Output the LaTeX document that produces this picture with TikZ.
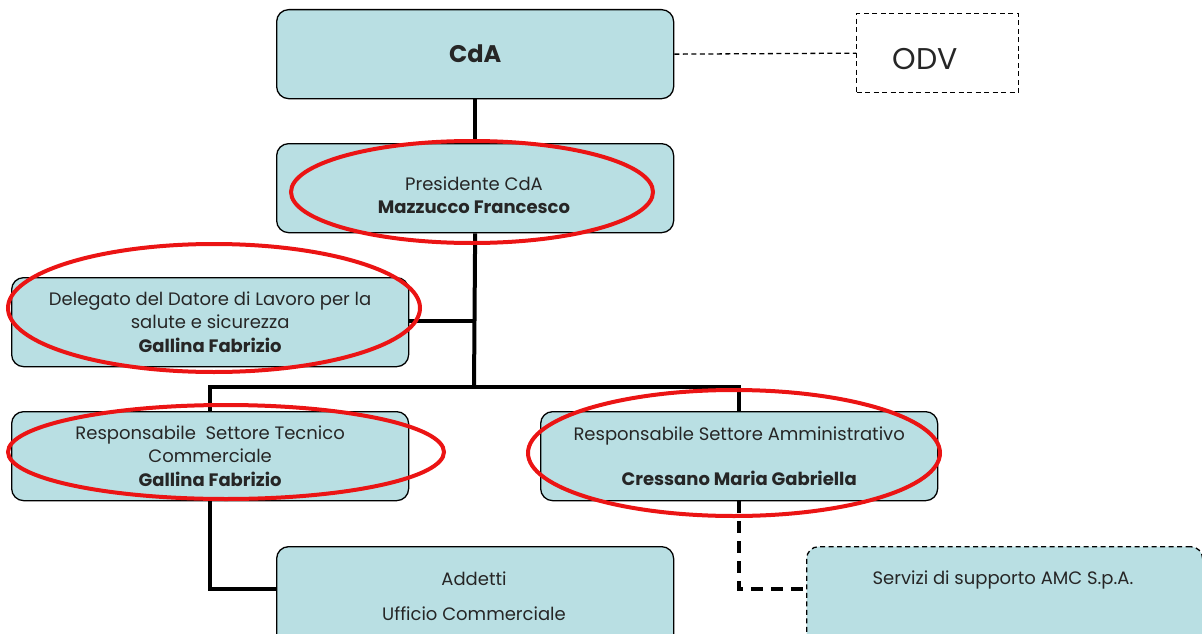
\documentclass[tikz,border=0pt]{standalone}
\usepackage{fontspec}
\setmainfont{Poppins}
\definecolor{boxfill}{RGB}{185,223,227}
\definecolor{ovalred}{RGB}{235,20,20}
\newcommand{\bodyfont}{\fontsize{18}{23.5}\selectfont}
\begin{document}
\begin{tikzpicture}[x=1pt,y=-1pt,
  box/.style={draw=black, line width=1.3pt, fill=boxfill, rounded corners=12pt,
    inner sep=0pt, align=center, font=\bodyfont, text=black!85,
    minimum width=397pt, minimum height=89pt, anchor=north west},
  dbox/.style={box, dash pattern=on 5pt off 3.5pt},
  lbl/.style={font=\bodyfont, text=black!85, align=center, inner sep=0pt},
  conn/.style={line width=4pt, draw=black},
  dconn/.style={line width=4pt, draw=black, dash pattern=on 12pt off 8pt},
  thindash/.style={line width=1.3pt, draw=black, dash pattern=on 5pt off 3.5pt},
  oval/.style={draw=ovalred, line width=4pt}]
\useasboundingbox (0,0) rectangle (1202,634);
% boxes
\node[box, font=\fontsize{24}{28}\selectfont\bfseries] (cda) at (276,9) {CdA};
\node[draw=black, thindash, minimum width=162pt, minimum height=79pt, anchor=north west,
  inner sep=0pt] (odv) at (856,13) {};
\node[lbl, font=\fontsize{30}{34}\selectfont] (odvt) at (925,59) {ODV};
\node[box] (pres) at (276,143) {};
\node[lbl] (prest) at (474,195) {Presidente CdA\\\textbf{Mazzucco Francesco}};
\node[box] (deleg) at (11,277) {Delegato del Datore di Lavoro per la\\salute e sicurezza\\\textbf{Gallina Fabrizio}};
\node[box] (tec) at (11,411) {Responsabile\ \ Settore Tecnico\\Commerciale\\\textbf{Gallina Fabrizio}};
\node[box] (amm) at (540,411) {Responsabile Settore Amministrativo\\[22pt]\textbf{Cressano Maria Gabriella}};
\node[box, minimum height=100pt] (add) at (276,546) {};
\node[lbl] (addt) at (474,596) {Addetti\\[11pt]Ufficio Commerciale};
\node[dbox, minimum width=396pt, minimum height=100pt] (serv) at (806,546) {};
\node[lbl] (servt) at (1003,580) {Servizi di supporto AMC S.p.A.};
% connectors
\coordinate (j) at (474,387);
\coordinate (dj) at (474,321);
\draw[thindash] (cda.east) -- (odv.west);
\draw[conn] (cda.south) -- (pres.north);
\draw[conn] (pres.south) -- (j);
\draw[conn] (deleg.east |- dj) -- (dj);
\draw[conn] (tec.north) -- (tec.north |- j) -- (amm.north |- j) -- (amm.north);
\draw[conn] (tec.south) |- (add.west |- 0,589);
\draw[dconn] (amm.south) |- (serv.west |- 0,589);
% red ovals
\draw[oval] (472,192) ellipse [x radius=181, y radius=51];
\draw[oval] (214,308) ellipse [x radius=206, y radius=64];
\draw[oval] (226,452) ellipse [x radius=218, y radius=47];
\draw[oval] (734,453) ellipse [x radius=206, y radius=63];
\end{tikzpicture}
\end{document}
